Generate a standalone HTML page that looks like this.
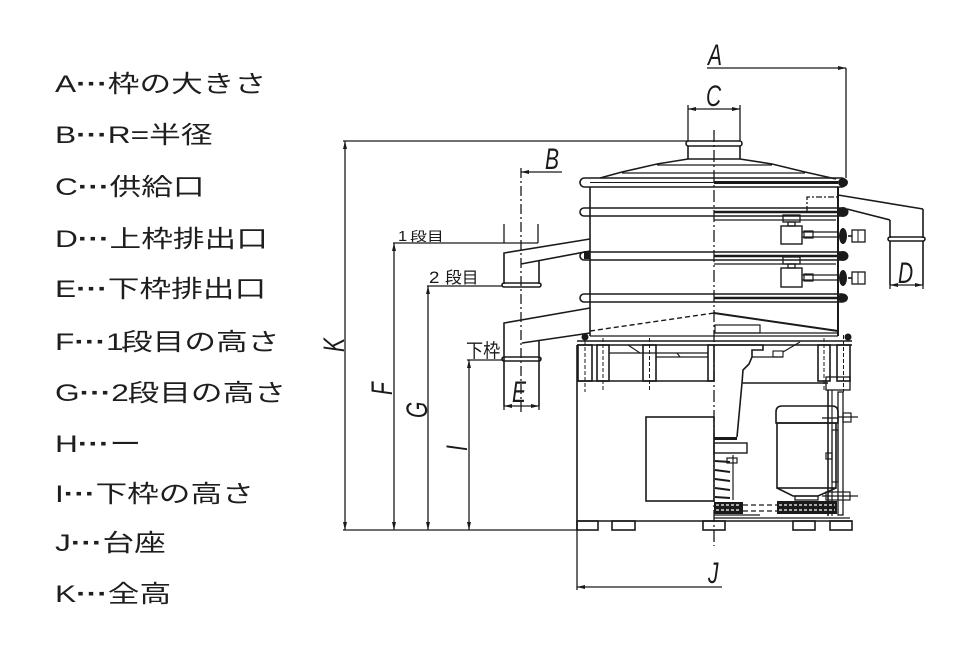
<!DOCTYPE html>
<html><head><meta charset="utf-8">
<style>html,body{margin:0;padding:0;background:#fff}svg{display:block}</style>
</head><body>
<svg xmlns="http://www.w3.org/2000/svg" width="980" height="650" viewBox="0 0 980 650">
<rect width="980" height="650" fill="#fff"/>

<!-- Legend -->
<g font-size="24" fill="#1e1e1e">
 <text transform="translate(55,92) scale(1.32,1)"><tspan font-family="Liberation Sans, sans-serif">A</tspan><tspan font-family="Liberation Sans, sans-serif" font-weight="bold">···</tspan><tspan font-family="Noto Sans CJK JP, sans-serif">枠の大きさ</tspan></text>
 <text transform="translate(55,143) scale(1.32,1)"><tspan font-family="Liberation Sans, sans-serif">B</tspan><tspan font-family="Liberation Sans, sans-serif" font-weight="bold">···</tspan><tspan font-family="Liberation Sans, sans-serif">R=</tspan><tspan font-family="Noto Sans CJK JP, sans-serif">半径</tspan></text>
 <text transform="translate(55,195) scale(1.32,1)"><tspan font-family="Liberation Sans, sans-serif">C</tspan><tspan font-family="Liberation Sans, sans-serif" font-weight="bold">···</tspan><tspan font-family="Noto Sans CJK JP, sans-serif">供給口</tspan></text>
 <text transform="translate(55,247) scale(1.32,1)"><tspan font-family="Liberation Sans, sans-serif">D</tspan><tspan font-family="Liberation Sans, sans-serif" font-weight="bold">···</tspan><tspan font-family="Noto Sans CJK JP, sans-serif">上枠排出口</tspan></text>
 <text transform="translate(55,297) scale(1.32,1)"><tspan font-family="Liberation Sans, sans-serif">E</tspan><tspan font-family="Liberation Sans, sans-serif" font-weight="bold">···</tspan><tspan font-family="Noto Sans CJK JP, sans-serif">下枠排出口</tspan></text>
 <text transform="translate(55,350) scale(1.32,1)"><tspan font-family="Liberation Sans, sans-serif">F</tspan><tspan font-family="Liberation Sans, sans-serif" font-weight="bold">···</tspan><tspan font-family="Liberation Sans, sans-serif">1</tspan><tspan dx="-2" font-family="Noto Sans CJK JP, sans-serif">段目の高さ</tspan></text>
 <text transform="translate(55,401) scale(1.32,1)"><tspan font-family="Liberation Sans, sans-serif">G</tspan><tspan font-family="Liberation Sans, sans-serif" font-weight="bold">···</tspan><tspan font-family="Liberation Sans, sans-serif">2</tspan><tspan dx="-1" font-family="Noto Sans CJK JP, sans-serif">段目の高さ</tspan></text>
 <text transform="translate(55,452) scale(1.32,1)"><tspan font-family="Liberation Sans, sans-serif">H</tspan><tspan font-family="Liberation Sans, sans-serif" font-weight="bold">···</tspan><tspan font-family="Noto Sans CJK JP, sans-serif">ー</tspan></text>
 <text transform="translate(55,502) scale(1.32,1)"><tspan font-family="Liberation Sans, sans-serif">I</tspan><tspan font-family="Liberation Sans, sans-serif" font-weight="bold">···</tspan><tspan font-family="Noto Sans CJK JP, sans-serif">下枠の高さ</tspan></text>
 <text transform="translate(55,551) scale(1.32,1)"><tspan font-family="Liberation Sans, sans-serif">J</tspan><tspan font-family="Liberation Sans, sans-serif" font-weight="bold">···</tspan><tspan font-family="Noto Sans CJK JP, sans-serif">台座</tspan></text>
 <text transform="translate(55,602) scale(1.32,1)"><tspan font-family="Liberation Sans, sans-serif">K</tspan><tspan font-family="Liberation Sans, sans-serif" font-weight="bold">···</tspan><tspan font-family="Noto Sans CJK JP, sans-serif">全高</tspan></text>
</g>

<!-- Dimension labels -->
<g font-family="Liberation Sans, sans-serif" font-style="italic" font-size="30" fill="#1a1a1a">
 <text transform="translate(708,65) scale(0.7,1)">A</text>
 <text transform="translate(706,106) scale(0.7,1)">C</text>
 <text transform="translate(545,169) scale(0.7,1)">B</text>
 <text transform="translate(898,283) scale(0.7,1)">D</text>
 <text transform="translate(512,402) scale(0.7,1)">E</text>
 <text transform="translate(708,583) scale(0.7,1)">J</text>
 <text transform="translate(344,352) rotate(-90) scale(0.7,1)">K</text>
 <text transform="translate(392,395) rotate(-90) scale(0.7,1)">F</text>
 <text transform="translate(427,418) rotate(-90) scale(0.7,1)">G</text>
 <text transform="translate(467,451) rotate(-90) scale(0.7,1)">I</text>
</g>
<g font-family="Noto Sans CJK JP, sans-serif" fill="#1a1a1a">
 <text transform="translate(398,241) scale(1.1,1)" font-size="15" font-family="Liberation Sans, sans-serif">1</text>
 <text transform="translate(410,241) scale(1.3,1)" font-size="13">段目</text>
 <text transform="translate(429,283) scale(1.1,1)" font-size="17" font-family="Liberation Sans, sans-serif">2</text>
 <text transform="translate(445,283) scale(1.05,1)" font-size="16">段目</text>
 <text transform="translate(466,357) scale(0.9,1)" font-size="19">下枠</text>
</g>

<!-- Dimension lines (thin) -->
<g fill="none" stroke="#1a1a1a" stroke-width="1.3">
 <line x1="343" y1="141" x2="688" y2="141"/>
 <line x1="345" y1="141" x2="345" y2="530"/>
 <line x1="343" y1="530" x2="577" y2="530"/>
 <line x1="393" y1="243" x2="538" y2="243"/>
 <line x1="394" y1="243" x2="394" y2="530"/>
 <line x1="427" y1="286" x2="503" y2="286"/>
 <line x1="428" y1="286" x2="428" y2="530"/>
 <line x1="467" y1="360" x2="503" y2="360"/>
 <line x1="469" y1="360" x2="469" y2="530"/>
 <line x1="504" y1="224" x2="504" y2="243"/>
 <line x1="538" y1="224" x2="538" y2="243"/>
 <!-- A -->
 <line x1="707" y1="68" x2="846" y2="68"/>
 <line x1="846" y1="68" x2="846" y2="178"/>
 <!-- C -->
 <line x1="688" y1="109" x2="740" y2="109"/>
 <line x1="688" y1="105" x2="688" y2="141"/>
 <line x1="740" y1="105" x2="740" y2="141"/>
 <!-- B -->
 <line x1="521" y1="172" x2="562" y2="172"/>
 <line x1="521" y1="168" x2="521" y2="412" stroke-dasharray="10 3 2 3"/>
 <!-- D -->
 <line x1="890" y1="285" x2="923" y2="285"/>
 <line x1="890" y1="285" x2="890" y2="289"/>
 <line x1="923" y1="285" x2="923" y2="289"/>
 <!-- E -->
 <line x1="504" y1="406" x2="539" y2="406"/>
 <line x1="504" y1="406" x2="504" y2="410"/>
 <line x1="539" y1="406" x2="539" y2="410"/>
 <!-- J -->
 <line x1="577" y1="530" x2="577" y2="590"/>
 <line x1="577" y1="587" x2="722" y2="587"/>
 <!-- centerline -->
 <line x1="714" y1="130" x2="714" y2="546" stroke-dasharray="12 3 2 3"/>
</g>

<!-- Arrowheads -->
<g fill="#1a1a1a" stroke="none">
 <polygon points="345,141 343,149 347,149"/>
 <polygon points="345,530 343,522 347,522"/>
 <polygon points="394,243 392,251 396,251"/>
 <polygon points="394,530 392,522 396,522"/>
 <polygon points="428,286 426,294 430,294"/>
 <polygon points="428,530 426,522 430,522"/>
 <polygon points="469,360 467,368 471,368"/>
 <polygon points="469,530 467,522 471,522"/>
 <polygon points="521,172 529,170 529,174"/>
 <polygon points="846,68 838,66 838,70"/>
 <polygon points="688,109 696,107 696,111"/>
 <polygon points="740,109 732,107 732,111"/>
 <polygon points="890,285 898,283 898,287"/>
 <polygon points="923,285 915,283 915,287"/>
 <polygon points="504,406 512,404 512,408"/>
 <polygon points="539,406 531,404 531,408"/>
 <polygon points="577,587 585,585 585,589"/>
</g>

<!-- Machine outline -->
<g fill="none" stroke="#1a1a1a" stroke-width="1.6">
 <!-- neck -->
 <rect x="686" y="141" width="56" height="5" rx="2.5"/>
 <line x1="688" y1="146" x2="688" y2="159"/>
 <line x1="740" y1="146" x2="740" y2="159"/>
 <line x1="688" y1="159" x2="740" y2="159"/>
 <!-- cone -->
 <polyline points="600,178 622,172 657,164 688,159"/>
 <polyline points="740,159 772,164 805,172 836,179"/>
 <line x1="657" y1="165" x2="772" y2="165" stroke-width="1.2"/>
 <line x1="622" y1="173" x2="805" y2="173" stroke-width="1.2"/>
 <!-- top rim -->
 <rect x="580" y="178" width="266" height="9" rx="4.5"/>
 <line x1="590" y1="182.5" x2="714" y2="182.5" stroke-width="1.1"/>
 <line x1="714" y1="182.5" x2="838" y2="182.5" stroke-width="3"/>
 <!-- walls -->
 <line x1="590" y1="187" x2="590" y2="336"/>
 <line x1="838" y1="187" x2="838" y2="336" stroke-width="2"/>
 <!-- rings -->
 <rect x="580" y="208" width="266" height="8" rx="4"/>
 <line x1="714" y1="212" x2="838" y2="212" stroke-width="2.6"/>
 <line x1="714" y1="220" x2="836" y2="220" stroke-width="1.2"/>
 <rect x="580" y="252" width="266" height="8" rx="4"/>
 <line x1="714" y1="256" x2="838" y2="256" stroke-width="2.4"/>
 <line x1="714" y1="264" x2="836" y2="264" stroke-width="1.2"/>
 <rect x="580" y="294" width="266" height="8" rx="4"/>
 <line x1="714" y1="298" x2="838" y2="298" stroke-width="2.6"/>
 <!-- lower section of body -->
 <line x1="590" y1="331" x2="714" y2="313" stroke-dasharray="5 3" stroke-width="1.4"/>
 <line x1="714" y1="313" x2="838" y2="331" stroke-width="2"/>
 <rect x="715" y="325" width="45" height="8" stroke-width="1.2"/>
 <line x1="714" y1="333" x2="838" y2="333" stroke-width="1.3"/>
 <line x1="590" y1="336" x2="838" y2="336" stroke-width="1.2"/>
 <!-- dashed rect near D -->
 <path d="M807,212 V197 H838" stroke-dasharray="6 2 2 2" stroke-width="1.3"/>
 <!-- D outlet -->
 <line x1="838" y1="195" x2="923" y2="209"/>
 <line x1="847" y1="209" x2="890" y2="220"/>
 <line x1="923" y1="209" x2="923" y2="238"/>
 <line x1="890" y1="220" x2="890" y2="238"/>
 <rect x="888" y="237" width="37" height="4" rx="2"/>
 <line x1="890" y1="241" x2="890" y2="285"/>
 <line x1="923" y1="241" x2="923" y2="285"/>
 <!-- clamps -->
 <rect x="783" y="215" width="17" height="7" stroke-width="1.3"/>
 <rect x="788" y="222" width="7" height="4" stroke-width="1.3"/>
 <rect x="781" y="226" width="21" height="18" stroke-width="1.4"/>
 <line x1="802" y1="232" x2="838" y2="232" stroke-width="1.2"/>
 <line x1="802" y1="237" x2="838" y2="237" stroke-width="1.2"/>
 <rect x="804" y="231" width="9" height="7" stroke-width="1.2"/>
 <rect x="852" y="230" width="13" height="12" stroke-width="1.3"/>
 <line x1="848" y1="236" x2="852" y2="236"/>
 <line x1="858" y1="230" x2="858" y2="242" stroke-width="1"/>
 <rect x="783" y="257" width="17" height="7" stroke-width="1.3"/>
 <rect x="788" y="264" width="7" height="4" stroke-width="1.3"/>
 <rect x="781" y="268" width="21" height="19" stroke-width="1.4"/>
 <line x1="802" y1="275" x2="838" y2="275" stroke-width="1.2"/>
 <line x1="802" y1="280" x2="838" y2="280" stroke-width="1.2"/>
 <rect x="804" y="274" width="9" height="7" stroke-width="1.2"/>
 <rect x="852" y="272" width="13" height="12" stroke-width="1.3"/>
 <line x1="848" y1="278" x2="852" y2="278"/>
 <line x1="858" y1="272" x2="858" y2="284" stroke-width="1"/>
 <!-- left upper outlet -->
 <polyline points="590,239 504,253 504,284"/>
 <line x1="590" y1="251" x2="521" y2="264"/>
 <line x1="539" y1="261" x2="539" y2="284"/>
 <rect x="502" y="283" width="39" height="4" rx="2"/>
 <!-- left lower outlet -->
 <polyline points="590,308 504,323 504,406"/>
 <line x1="590" y1="333" x2="522" y2="343"/>
 <line x1="539" y1="341" x2="539" y2="406"/>
 <rect x="502" y="357" width="39" height="4" rx="2"/>
 <!-- base frame plate -->
 <line x1="577" y1="341" x2="852" y2="341"/>
 <line x1="577" y1="345" x2="852" y2="345"/>
 <!-- posts -->
 <rect x="578" y="345" width="14" height="36"/>
 <rect x="597" y="345" width="12" height="36"/>
 <rect x="643" y="345" width="13" height="36"/>
 <rect x="708" y="345" width="6" height="36"/>
 <rect x="818" y="345" width="12" height="36"/>
 <rect x="837" y="345" width="13" height="36"/>
 <g stroke-width="1" stroke-dasharray="4 2">
  <line x1="585" y1="335" x2="585" y2="392"/>
  <line x1="603" y1="338" x2="603" y2="392"/>
  <line x1="649.5" y1="338" x2="649.5" y2="392"/>
  <line x1="824" y1="338" x2="824" y2="390"/>
  <line x1="843.5" y1="335" x2="843.5" y2="392"/>
 </g>
 <!-- left under frame -->
 <line x1="577" y1="345" x2="577" y2="530"/>
 <line x1="577" y1="381" x2="714" y2="381"/>
 <line x1="609" y1="353" x2="708" y2="353" stroke-width="1.2"/>
 <line x1="656" y1="357" x2="708" y2="357" stroke-width="1.2"/>
 <polyline points="628,345 640,353" stroke-width="1.2"/>
 <polyline points="677,353 680,357" stroke-width="1.2"/>
 <!-- hub -->
 <polyline points="714,345 763,345 763,350 752,350 752,357 749,364 743,370 742,383 737,437"/>
 <line x1="752" y1="357" x2="783" y2="357" stroke-width="1.2"/>
 <rect x="773" y="351" width="10" height="6" stroke-width="1.1"/>
 <line x1="783" y1="352" x2="800" y2="342" stroke-width="1.2"/>
 <line x1="742" y1="383" x2="828" y2="383"/>
 <!-- right frame -->
 <rect x="826" y="377" width="24" height="13" stroke-width="1.3"/>
 <line x1="828" y1="390" x2="828" y2="516"/>
 <line x1="832" y1="390" x2="832" y2="516" stroke-width="1.2"/>
 <rect x="838" y="392" width="5" height="123" stroke-width="1.3"/>
 <!-- left rect -->
 <rect x="646" y="417" width="68" height="84"/>
 <!-- column -->
 <rect x="714" y="443" width="33" height="10" stroke-width="1.4"/>
 <line x1="733" y1="455" x2="733" y2="500" stroke-width="1.2"/>
 <rect x="727" y="458" width="10" height="5" stroke-width="1.2"/>
 <!-- motor -->
 <path d="M776,423 V412 Q776,406 782,406 H832 Q838,406 838,412 V423 Z"/>
 <rect x="777" y="423" width="59" height="65"/>
 <polyline points="777,488 793,496 818,496 836,488"/>
 <rect x="795" y="496" width="23" height="4" stroke-width="1.3"/>
 <rect x="832" y="430" width="6" height="52" stroke-width="1.2"/>
 <rect x="826" y="453" width="6" height="6" stroke-width="1.2"/>
 <line x1="822" y1="418" x2="838" y2="418" stroke-width="1.3"/>
 <rect x="843" y="413" width="8" height="9" stroke-width="1.2"/>
 <line x1="838" y1="417" x2="858" y2="417" stroke-width="1.2"/>
 <rect x="826" y="492" width="24" height="8" stroke-width="1.2"/>
 <line x1="822" y1="496" x2="858" y2="496" stroke-width="1.2"/>
 <!-- belts -->
 <line x1="743" y1="505" x2="777" y2="505" stroke-dasharray="5 3" stroke-width="1.2"/>
 <line x1="743" y1="511" x2="777" y2="511" stroke-dasharray="5 3" stroke-width="1.2"/>
 <!-- bottom plates -->
 <line x1="714" y1="515" x2="760" y2="515" stroke-width="1.2"/>
 <line x1="714" y1="518" x2="850" y2="518" stroke-width="1.2"/>
 <line x1="577" y1="521" x2="852" y2="521"/>
 <!-- feet -->
 <rect x="577" y="521" width="21" height="9"/>
 <rect x="612" y="521" width="23" height="9"/>
 <rect x="703" y="521" width="22" height="9"/>
 <rect x="793" y="521" width="22" height="9"/>
 <rect x="830" y="521" width="22" height="9"/>
</g>

<!-- Filled dark parts -->
<g fill="#1a1a1a" stroke="none">
 <ellipse cx="843" cy="182.5" rx="5" ry="4.5"/>
 <ellipse cx="843" cy="212" rx="5.5" ry="5"/>
 <ellipse cx="843" cy="256" rx="5.5" ry="5"/>
 <ellipse cx="843" cy="298" rx="5" ry="4.5"/>
 <ellipse cx="843" cy="236" rx="4" ry="8"/>
 <ellipse cx="843" cy="278" rx="4" ry="8"/>
 <rect x="584" y="251" width="6" height="8"/>
 <circle cx="585" cy="337" r="3.5"/>
 <circle cx="848" cy="337" r="3.5"/>
 <rect x="714" y="437" width="23" height="3"/>
 <rect x="714" y="502" width="29" height="12"/>
 <rect x="777" y="501" width="60" height="13"/>
</g>
<g stroke="#1a1a1a" stroke-width="2">
 <line x1="715" y1="461" x2="730" y2="462"/>
 <line x1="715" y1="470" x2="730" y2="472"/>
 <line x1="715" y1="479" x2="730" y2="481"/>
 <line x1="715" y1="488" x2="730" y2="490"/>
 <line x1="715" y1="497" x2="730" y2="498"/>
</g>
<g stroke="#fff" stroke-width="1.2" stroke-dasharray="3 2">
 <line x1="716" y1="505" x2="741" y2="505"/>
 <line x1="716" y1="510" x2="741" y2="510"/>
 <line x1="779" y1="505" x2="835" y2="505"/>
 <line x1="779" y1="510" x2="835" y2="510"/>
</g>
</svg>
</body></html>
